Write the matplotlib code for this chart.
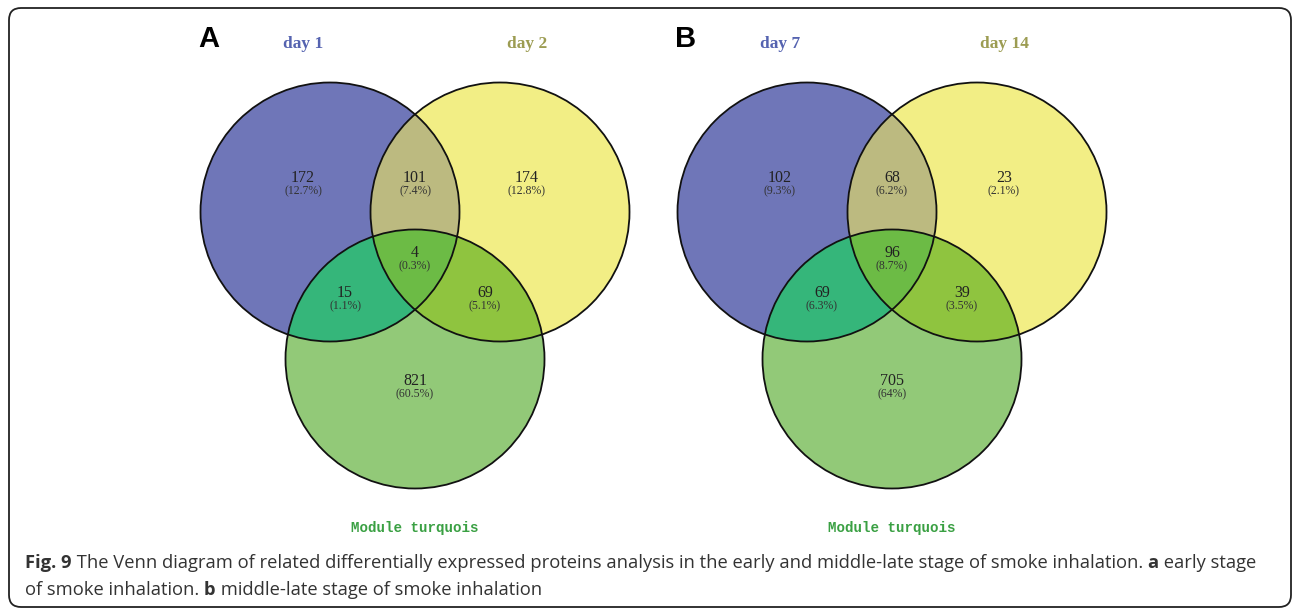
import numpy as np
import matplotlib
matplotlib.use("Agg")
import matplotlib.pyplot as plt
from matplotlib.patches import Circle, Polygon, FancyBboxPatch

# data
panel_labels = ['A', 'B']
set_names_a = ['day 1', 'day 2', 'Module turquois']
set_names_b = ['day 7', 'day 14', 'Module turquois']
region_keys = ['100', '110', '010', '111', '101', '011', '001']
counts_a = [172, 101, 174, 4, 15, 69, 821]
pcts_a = ['12.7%', '7.4%', '12.8%', '0.3%', '1.1%', '5.1%', '60.5%']
counts_b = [102, 68, 23, 96, 69, 39, 705]
pcts_b = ['9.3%', '6.2%', '2.1%', '8.7%', '6.3%', '3.5%', '64%']

caption_line1 = [("Fig. 9", "bold"),
                 (" The Venn diagram of related differentially expressed proteins analysis in the early and middle-late stage of smoke inhalation. ", "normal"),
                 ("a", "bold"), (" early stage", "normal")]
caption_line2 = [("of smoke inhalation. ", "normal"), ("b", "bold"),
                 (" middle-late stage of smoke inhalation", "normal")]

# colours
set_colors = ['#6f76b8', '#f2ee85', '#92c978']
pair_colors = {'110': '#bcba80', '101': '#35b67a', '011': '#8fc43f'}
triple_color = '#6cbb45'
title_colors = ['#5563b0', '#9c9c52', '#3aa043']

# layout (pixels)
W, H = 1292, 609
r = 129.5
half_sep = 85
top_y = 212
bot_y = top_y + 147
label_pos = {'100': (-112, -34), '110': (0, -34), '010': (112, -34),
             '111': (0, 41), '101': (-70, 81), '011': (70, 81), '001': (0, 169)}


def region_poly(circles, idx):
    # intersection of convex circles as polygon
    pts = []
    t = np.linspace(0, 2 * np.pi, 1440, endpoint=False)
    for i in idx:
        cx, cy = circles[i]
        p = np.column_stack([cx + r * np.cos(t), cy + r * np.sin(t)])
        keep = np.ones(len(p), bool)
        for j in idx:
            if j == i:
                continue
            keep &= np.hypot(p[:, 0] - circles[j][0], p[:, 1] - circles[j][1]) <= r + 1e-6
        pts.append(p[keep])
    pts = np.vstack(pts)
    c = pts.mean(axis=0)
    order = np.argsort(np.arctan2(pts[:, 1] - c[1], pts[:, 0] - c[0]))
    return pts[order]


fig = plt.figure(figsize=(W / 100, H / 100), dpi=100)
ax = fig.add_axes([0, 0, 1, 1])
ax.set_xlim(0, W)
ax.set_ylim(H, 0)
ax.axis('off')

panels = [(415, set_names_a, counts_a, pcts_a), (892, set_names_b, counts_b, pcts_b)]

for k, (pcx, names, counts, pcts) in enumerate(panels):
    circles = [(pcx - half_sep, top_y), (pcx + half_sep, top_y), (pcx, bot_y)]
    for (cx, cy), col in zip(circles, set_colors):
        ax.add_patch(Circle((cx, cy), r, facecolor=col, edgecolor='none', zorder=1))
    for key, col in pair_colors.items():
        idx = [i for i, ch in enumerate(key) if ch == '1']
        ax.add_patch(Polygon(region_poly(circles, idx), closed=True, facecolor=col,
                             edgecolor='none', zorder=2))
    ax.add_patch(Polygon(region_poly(circles, [0, 1, 2]), closed=True, facecolor=triple_color,
                         edgecolor='none', zorder=3))
    for cx, cy in circles:
        ax.add_patch(Circle((cx, cy), r, fill=False, edgecolor='#111111', lw=1.3, zorder=4))

    for key, n, p in zip(region_keys, counts, pcts):
        dx, dy = label_pos[key]
        ax.text(pcx + dx, top_y + dy, str(n), ha='center', va='center',
                fontsize=11.5, family='Liberation Serif', color='#222222', zorder=5)
        ax.text(pcx + dx, top_y + dy + 13.5, '(' + p + ')', ha='center', va='center',
                fontsize=8.5, family='Liberation Serif', color='#333333', zorder=5)

    ax.text(pcx - 112, 44, names[0], ha='center', va='center', fontsize=12.5,
            family='Liberation Serif', fontweight='bold', color=title_colors[0])
    ax.text(pcx + 112, 44, names[1], ha='center', va='center', fontsize=12.5,
            family='Liberation Serif', fontweight='bold', color=title_colors[1])
    ax.text(pcx, 528, names[2], ha='center', va='center', fontsize=10.2,
            family='Liberation Mono', fontweight='bold', color=title_colors[2])
    ax.text(pcx - 206, 39, panel_labels[k], ha='center', va='center', fontsize=21,
            family='Liberation Sans', fontweight='bold', color='black')

# caption
renderer = fig.canvas.get_renderer()
for line, y in [(caption_line1, 563), (caption_line2, 590)]:
    x = 25
    for s, w in line:
        t = ax.text(x, y, s, ha='left', va='center', fontsize=13.2, fontweight=w,
                    family='Open Sans', color='#333333')
        x += t.get_window_extent(renderer).width

# frame
ax.add_patch(FancyBboxPatch((9, 8), 1282, 599, boxstyle='round,pad=0,rounding_size=12',
                            fill=False, edgecolor='#222222', lw=1.3, clip_on=False))

fig.savefig('out.png', dpi=100)
